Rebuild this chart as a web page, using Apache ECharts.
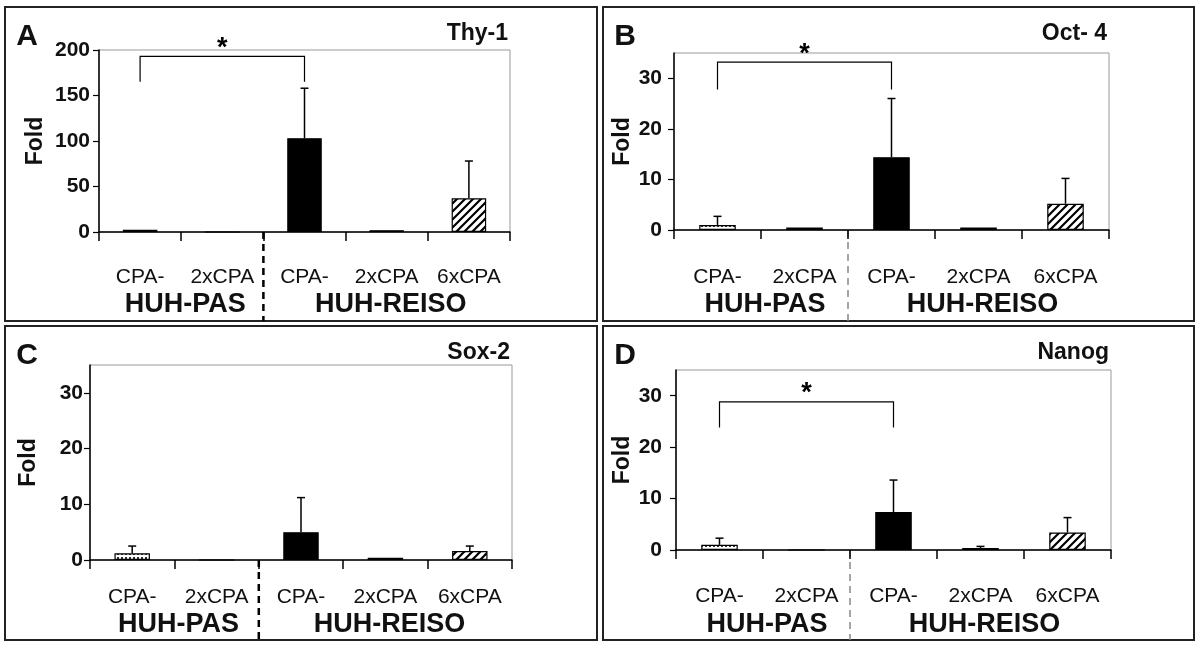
<!DOCTYPE html>
<html>
<head>
<meta charset="utf-8">
<script src="https://cdn.jsdelivr.net/npm/echarts@6/dist/echarts.min.js"></script>
<style>
  html, body { margin: 0; padding: 0; background: #fff; }
  #main { width: 1200px; height: 649px; }
</style>
</head>
<body>
<div id="main"></div>
<script>
// categories along x, grouped by cell line
const categories = ["CPA-", "2xCPA", "CPA-", "2xCPA", "6xCPA"];
const groupNames = ["HUH-PAS", "HUH-REISO"];
const groupSpans = [[0, 1], [2, 4]];

// fold change means and upper error (SD) per panel
const thyMean = [2.5, 0, 103, 2, 37];
const thyErr = [0, 0, 55, 0, 41];
const octMean = [1, 0.5, 14.4, 0.5, 5.2];
const octErr = [1.7, 0, 11.6, 0, 5];
const soxMean = [1.2, 0, 5, 0.4, 1.6];
const soxErr = [1.3, 0, 6.2, 0, 0.9];
const nanogMean = [1, 0, 7.4, 0.4, 3.4];
const nanogErr = [1.3, 0, 6.2, 0.3, 2.9];

// significance brackets: [from cat, to cat, top value, foot value]
const thyBracket = [0, 2, 193, 165];
const octBracket = [0, 2, 33.2, 27.8];
const nanogBracket = [0, 2, 28.8, 23.8];

// y axis ranges
const thyTicks = [0, 200, 50];
const smallTicks = [0, 35, 10];

const FONT = "'Liberation Sans Narrow', 'Liberation Sans', Arial, sans-serif";

function hatchPattern() {
  const c = document.createElement("canvas");
  c.width = c.height = 8;
  const g = c.getContext("2d");
  g.fillStyle = "#fff";
  g.fillRect(0, 0, 8, 8);
  g.strokeStyle = "#000";
  g.lineWidth = 2.2;
  g.beginPath();
  g.moveTo(-2, 10); g.lineTo(10, -2);
  g.moveTo(-2, 2); g.lineTo(2, -2);
  g.moveTo(6, 10); g.lineTo(10, 6);
  g.stroke();
  return c;
}
function dotPattern() {
  const c = document.createElement("canvas");
  c.width = c.height = 4;
  const g = c.getContext("2d");
  g.fillStyle = "#fff";
  g.fillRect(0, 0, 4, 4);
  g.fillStyle = "#333";
  g.fillRect(1, 1, 2, 2);
  return c;
}
const hatch = { image: hatchPattern(), repeat: "repeat" };
const dots = { image: dotPattern(), repeat: "repeat" };

const barStyle = (i) => ({
  color: i === 0 ? dots : i === 4 ? hatch : "#000",
  borderColor: "#000",
  borderWidth: 1.2,
});

const panels = [
  { letter: "A", title: "Thy-1", mean: thyMean, err: thyErr, bracket: thyBracket, ticks: thyTicks,
    grid: { left: 99, top: 50, width: 411, height: 182 }, box: [5, 7, 592, 314],
    nameGap: 52, labelMargin: 9, catMargin: 35, groupY: 305, dashColor: "#000", dashWidth: 2.5 },
  { letter: "B", title: "Oct- 4", mean: octMean, err: octErr, bracket: octBracket, ticks: smallTicks,
    grid: { left: 674, top: 53, width: 435, height: 177 }, box: [603, 7, 591, 314],
    nameGap: 40, labelMargin: 12, catMargin: 37, groupY: 305, dashColor: "#888", dashWidth: 1.5 },
  { letter: "C", title: "Sox-2", mean: soxMean, err: soxErr, bracket: null, ticks: smallTicks,
    grid: { left: 90, top: 365, width: 422, height: 195 }, box: [5, 326, 592, 314],
    nameGap: 50, labelMargin: 7, catMargin: 27, groupY: 625, dashColor: "#000", dashWidth: 2.5 },
  { letter: "D", title: "Nanog", mean: nanogMean, err: nanogErr, bracket: nanogBracket, ticks: smallTicks,
    grid: { left: 676, top: 370, width: 435, height: 180 }, box: [603, 326, 591, 314],
    nameGap: 42, labelMargin: 14, catMargin: 36, groupY: 625, dashColor: "#888", dashWidth: 1.5 },
];

function renderError(params, api) {
  const x = api.value(0);
  const base = api.coord([x, api.value(1)]);
  const tip = api.coord([x, api.value(1) + api.value(2)]);
  const st = { stroke: "#000", lineWidth: 1.5 };
  return {
    type: "group",
    children: [
      { type: "line", shape: { x1: base[0], y1: base[1], x2: tip[0], y2: tip[1] }, style: st },
      { type: "line", shape: { x1: tip[0] - 4, y1: tip[1], x2: tip[0] + 4, y2: tip[1] }, style: st },
    ],
  };
}

function renderBracket(params, api) {
  const a = api.coord([api.value(0), api.value(2)]);
  const b = api.coord([api.value(1), api.value(2)]);
  const foot = api.coord([api.value(0), api.value(3)])[1];
  return {
    type: "group",
    children: [
      { type: "polyline", shape: { points: [[a[0], foot], [a[0], a[1]], [b[0], a[1]], [b[0], foot]] },
        style: { stroke: "#000", lineWidth: 1.2, fill: null } },
      { type: "text", x: (a[0] + b[0]) / 2, y: a[1] - 8,
        style: { text: "*", font: "bold 27px " + FONT, fill: "#000", align: "center", verticalAlign: "middle" } },
    ],
  };
}

const option = { animation: false, grid: [], xAxis: [], yAxis: [], series: [], graphic: [] };

panels.forEach((p, k) => {
  option.grid.push(Object.assign({ show: true, borderColor: "#999", borderWidth: 1, backgroundColor: "transparent" }, p.grid));
  option.xAxis.push({
    type: "category", gridIndex: k, data: categories,
    axisLine: { lineStyle: { color: "#000", width: 1.5 } },
    axisTick: { show: true, length: 9, lineStyle: { color: "#000", width: 1.5 },
      interval: 0 },
    axisLabel: { margin: p.catMargin, interval: 0, hideOverlap: false,
      fontFamily: FONT, fontSize: 21, color: "#111" },
  });
  option.yAxis.push({
    type: "value", gridIndex: k, min: p.ticks[0], max: p.ticks[1], interval: p.ticks[2],
    name: "Fold", nameLocation: "middle", nameRotate: 90, nameGap: p.nameGap,
    nameTextStyle: { fontFamily: FONT, fontSize: 23, fontWeight: "bold", color: "#111" },
    axisLine: { show: true, lineStyle: { color: "#000", width: 1.5 } },
    axisTick: { show: true, length: 6, lineStyle: { color: "#000", width: 1.2 } },
    splitLine: { show: false },
    axisLabel: { margin: p.labelMargin, fontFamily: FONT, fontSize: 21, fontWeight: "bold", color: "#111",
      showMaxLabel: p.ticks[1] % p.ticks[2] === 0 },
  });
  option.series.push({
    type: "bar", xAxisIndex: k, yAxisIndex: k, barWidth: "42%",
    data: p.mean.map((v, i) => ({ value: v, itemStyle: barStyle(i) })),
  });
  option.series.push({
    type: "custom", xAxisIndex: k, yAxisIndex: k, renderItem: renderError, z: 3,
    data: p.mean.map((v, i) => [i, v, p.err[i]]).filter((d) => d[2] > 0),
  });
  if (p.bracket) {
    option.series.push({
      type: "custom", xAxisIndex: k, yAxisIndex: k, renderItem: renderBracket, z: 4,
      data: [p.bracket],
    });
  }
  // panel frame, letter and gene name
  option.graphic.push({ type: "rect", shape: { x: p.box[0], y: p.box[1], width: p.box[2], height: p.box[3] },
    style: { fill: null, stroke: "#222", lineWidth: 2 }, silent: true });
  option.graphic.push({ type: "text", x: p.box[0] + 22, y: p.box[1] + 30,
    style: { text: p.letter, font: "bold 30px " + FONT, fill: "#111", align: "center", verticalAlign: "middle" } });
  option.graphic.push({ type: "text", x: p.grid.left + p.grid.width - 2, y: p.box[1] + 27,
    style: { text: p.title, font: "bold 23px " + FONT, fill: "#111", align: "right", verticalAlign: "middle" } });
});

const chart = echarts.init(document.getElementById("main"));
chart.setOption(option);

// group labels and dashed separators, placed from the axes
const extra = [];
panels.forEach((p, k) => {
  const px = (i) => chart.convertToPixel({ xAxisIndex: k }, i);
  const zeroY = chart.convertToPixel({ yAxisIndex: k }, 0);
  const step = px(1) - px(0);
  groupSpans.forEach((s, g) => {
    extra.push({ type: "text", x: (px(s[0]) + px(s[1])) / 2 + 4, y: p.groupY,
      style: { text: groupNames[g], font: "bold 27px " + FONT, fill: "#111", align: "center", verticalAlign: "middle" } });
  });
  const sepX = px(1) + step / 2;
  extra.push({ type: "line", shape: { x1: sepX, y1: zeroY, x2: sepX, y2: p.box[1] + p.box[3] },
    style: { stroke: p.dashColor, lineWidth: p.dashWidth, lineDash: [7, 5] }, silent: true });
});
chart.setOption({ graphic: option.graphic.concat(extra) });
</script>
</body>
</html>
